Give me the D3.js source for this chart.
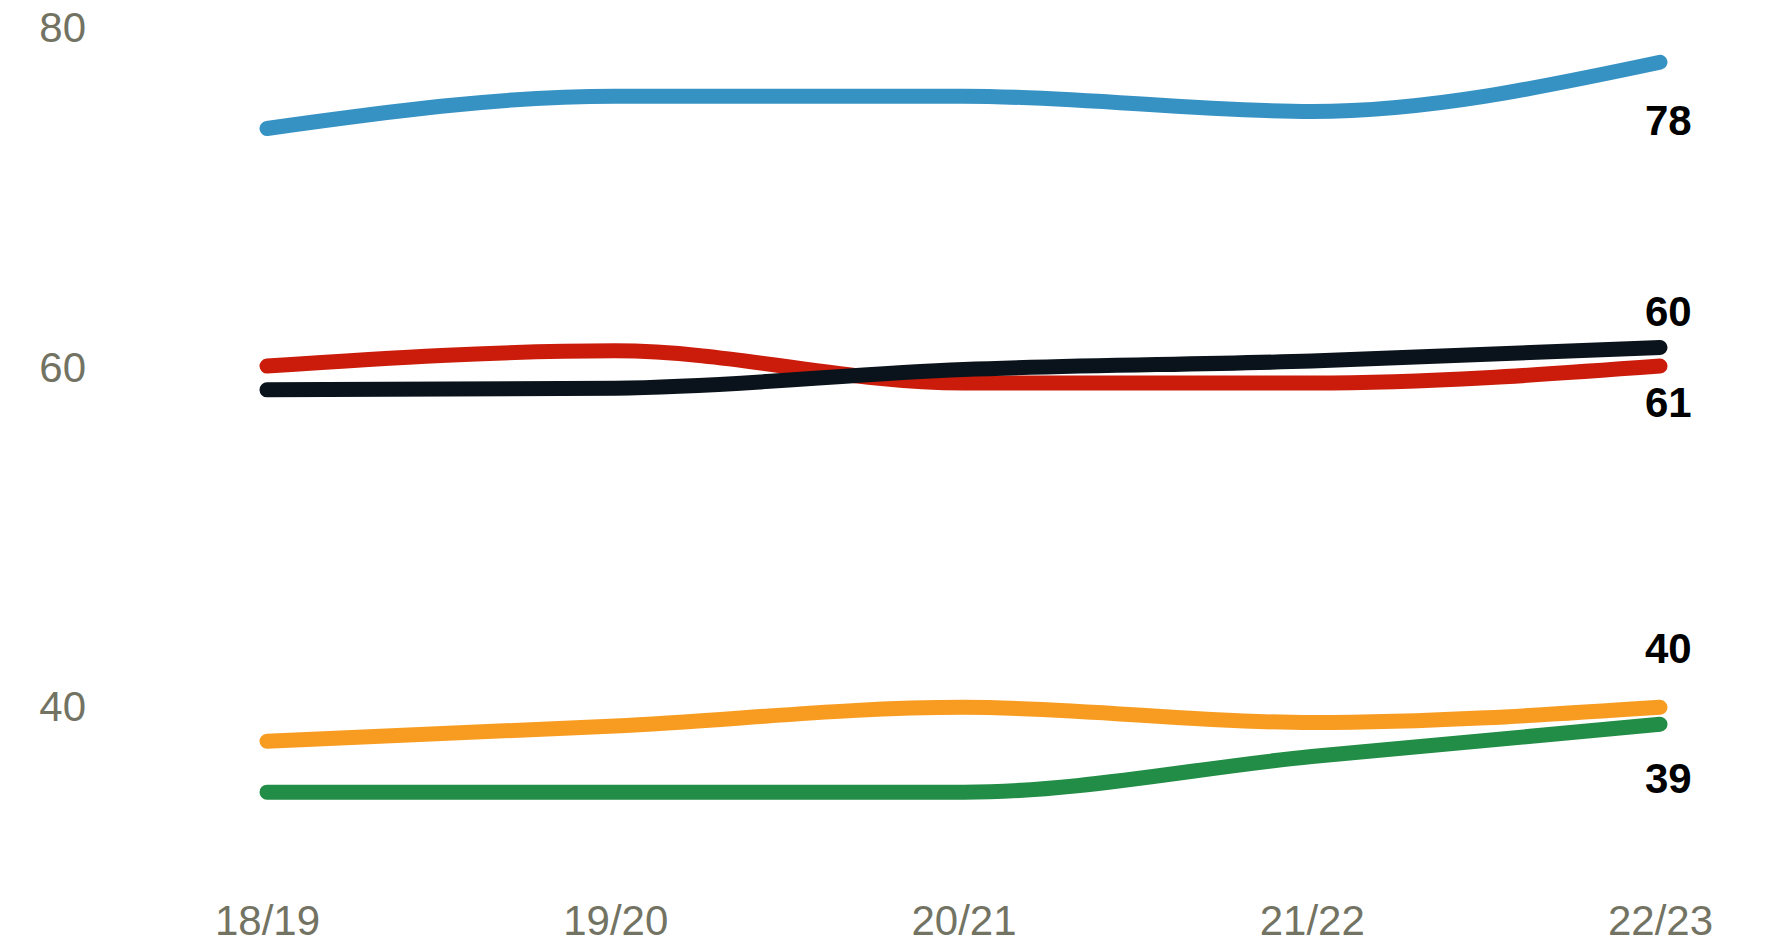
<!DOCTYPE html>
<html>
<head>
<meta charset="utf-8">
<script src="https://cdn.jsdelivr.net/npm/d3@7"></script>
<style>
  body { margin: 0; background: #fff; }
  text { font-family: "Liberation Sans", Arial, sans-serif; }
</style>
</head>
<body>
<svg class="chart"></svg>
<script>
// data
var years = ["18/19", "19/20", "20/21", "21/22", "22/23"];
var yTicks = [40, 60, 80];

var blueValues   = [74.1, 76, 76, 75.1, 78];
var redValues    = [60.1, 61, 59.1, 59.1, 60.1];
var blackValues  = [58.7, 58.8, 59.9, 60.4, 61.2];
var orangeValues = [38, 38.9, 40, 39.1, 40];
var greenValues  = [35, 35, 35, 37.1, 39];

// end labels as printed on the chart
var endLabels = ["78", "61", "60", "40", "39"];

function show() {

    'use strict';
    var width = 1765,
        height = 950;

    var svg = d3.select(".chart")
        .attr("width", width)
        .attr("height", height);

    var series = [
        {values: blueValues,   color: "#3792c4", label: endLabels[0], dy: 73},
        {values: redValues,    color: "#cb1c0b", label: endLabels[1], dy: 51},
        {values: blackValues,  color: "#0a131b", label: endLabels[2], dy: -21},
        {values: orangeValues, color: "#f89c21", label: endLabels[3], dy: -44},
        {values: greenValues,  color: "#228d46", label: endLabels[4], dy: 69}
    ];

    var x = d3.scalePoint().domain(years).range([267, 1660]);
    var y = d3.scaleLinear().domain([40, 80]).range([707.3, 28.3]);

    // y tick labels, no axis line
    svg.append("g")
        .attr("transform", "translate(86,0)")
        .call(d3.axisLeft(y).tickValues(yTicks).tickSize(0).tickPadding(0))
        .call(function(g) { g.select(".domain").remove(); })
        .selectAll("text")
        .attr("font-family", "Liberation Sans, Arial, sans-serif")
        .attr("font-size", 42)
        .attr("fill", "#737363");

    // x tick labels
    svg.append("g")
        .attr("transform", "translate(0,935)")
        .call(d3.axisBottom(x).tickSize(0).tickPadding(0))
        .call(function(g) { g.select(".domain").remove(); })
        .selectAll("text")
        .attr("dy", 0)
        .attr("font-family", "Liberation Sans, Arial, sans-serif")
        .attr("font-size", 42)
        .attr("fill", "#737363");

    var line = d3.line()
        .x(function(d, i) { return x(years[i]); })
        .y(function(d) { return y(d); })
        .curve(d3.curveMonotoneX);

    svg.append("g").selectAll("path").data(series).enter()
        .append("path")
        .attr("d", function(d) { return line(d.values); })
        .attr("fill", "none")
        .attr("stroke", function(d) { return d.color; })
        .attr("stroke-width", 15)
        .attr("stroke-linecap", "round")
        .attr("stroke-linejoin", "round");

    // value labels at the right end
    svg.append("g").selectAll("text").data(series).enter()
        .append("text")
        .attr("x", x(years[years.length - 1]) - 15)
        .attr("y", function(d) { return y(d.values[d.values.length - 1]) + d.dy; })
        .attr("font-size", 42)
        .attr("font-weight", "bold")
        .attr("fill", "#000")
        .text(function(d) { return d.label; });
}

show();
</script>
</body>
</html>
